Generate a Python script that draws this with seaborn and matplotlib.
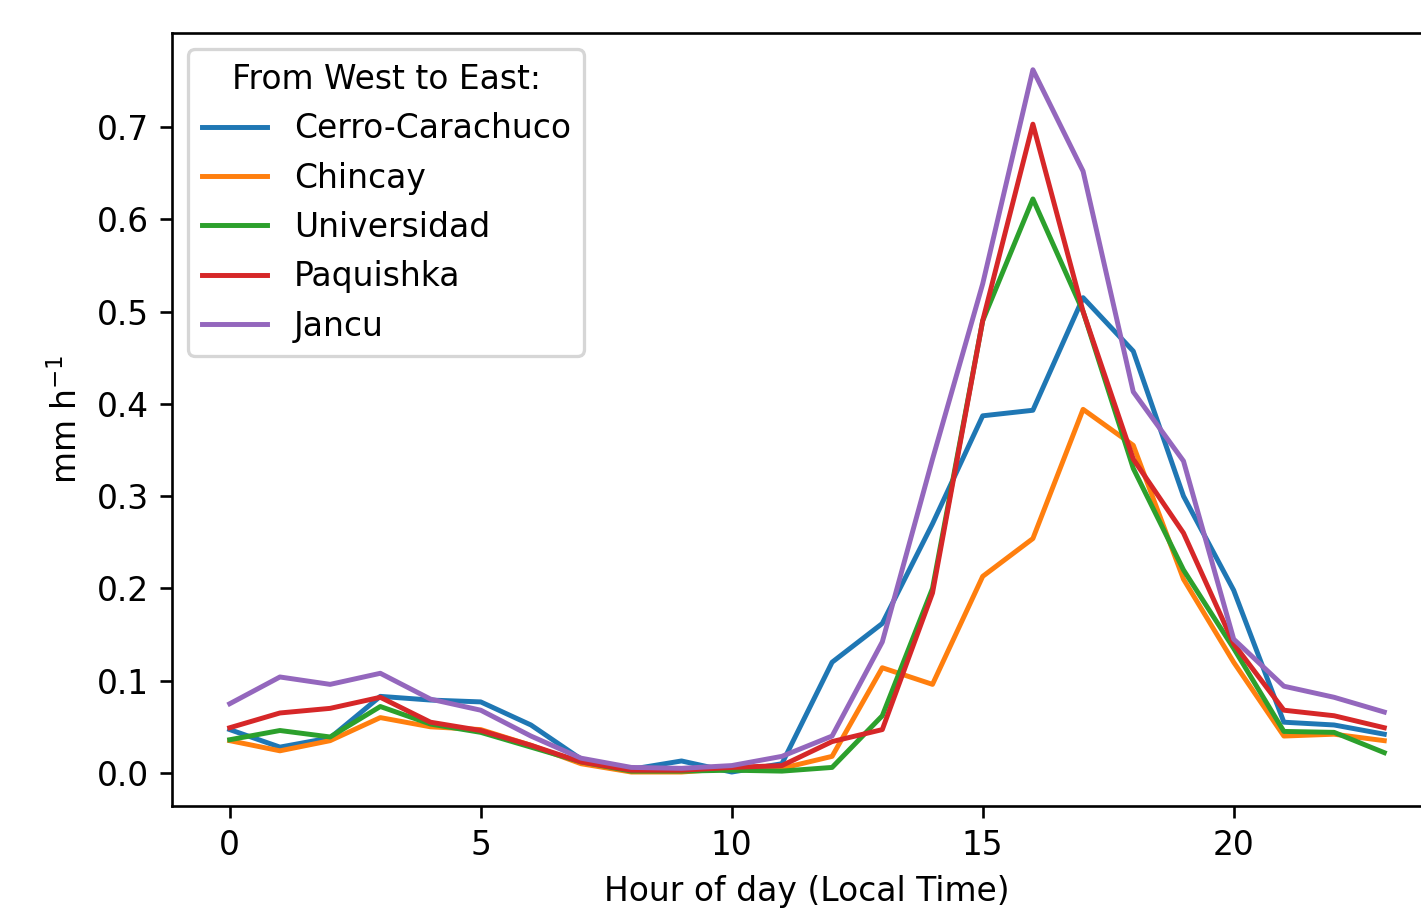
import matplotlib
matplotlib.use("Agg")
import matplotlib.pyplot as plt
import seaborn as sns
import pandas as pd

hours = list(range(24))
stations = ["Cerro-Carachuco", "Chincay", "Universidad", "Paquishka", "Jancu"]

cerro = [0.047, 0.028, 0.038, 0.083, 0.079, 0.077, 0.052, 0.015, 0.004, 0.013, 0.001, 0.010,
         0.120, 0.162, 0.270, 0.387, 0.393, 0.515, 0.457, 0.300, 0.198, 0.055, 0.052, 0.042]
chincay = [0.035, 0.024, 0.035, 0.060, 0.050, 0.047, 0.030, 0.010, 0.001, 0.001, 0.005, 0.005,
           0.018, 0.114, 0.096, 0.213, 0.254, 0.394, 0.355, 0.210, 0.120, 0.040, 0.042, 0.035]
universidad = [0.036, 0.046, 0.039, 0.072, 0.053, 0.044, 0.028, 0.012, 0.002, 0.002, 0.003, 0.002,
               0.006, 0.062, 0.200, 0.490, 0.622, 0.500, 0.330, 0.220, 0.135, 0.045, 0.044, 0.022]
paquishka = [0.049, 0.065, 0.070, 0.082, 0.055, 0.046, 0.030, 0.012, 0.003, 0.003, 0.006, 0.008,
             0.034, 0.047, 0.195, 0.490, 0.703, 0.500, 0.340, 0.260, 0.140, 0.068, 0.062, 0.049]
jancu = [0.075, 0.104, 0.096, 0.108, 0.080, 0.068, 0.040, 0.016, 0.006, 0.005, 0.008, 0.018,
         0.040, 0.142, 0.340, 0.530, 0.762, 0.652, 0.413, 0.338, 0.145, 0.094, 0.082, 0.066]

series = [cerro, chincay, universidad, paquishka, jancu]
rows = []
for name, vals in zip(stations, series):
    for h, v in zip(hours, vals):
        rows.append({"hour": h, "value": v, "station": name})
df = pd.DataFrame(rows)

DPI = 237
fig = plt.figure(figsize=(1421 / DPI, 909 / DPI), dpi=DPI)
ax = fig.add_axes([172 / 1421, 103 / 909, 1270 / 1421, 773 / 909])

palette = ["#1f77b4", "#ff7f0e", "#2ca02c", "#d62728", "#9467bd"]
sns.lineplot(data=df, x="hour", y="value", hue="station", hue_order=stations,
             palette=palette, ax=ax, linewidth=1.5)

ax.set_xlim(-1.15, 24.15)
ax.set_ylim(-0.0358, 0.8018)
ax.set_xticks([0, 5, 10, 15, 20])
ax.set_yticks([0.0, 0.1, 0.2, 0.3, 0.4, 0.5, 0.6, 0.7])
ax.set_xlabel("Hour of day (Local Time)")
ax.set_ylabel("mm h$^{-1}$")
ax.legend(title="From West to East:", loc="upper left")

fig.savefig("out.png", dpi=DPI)
